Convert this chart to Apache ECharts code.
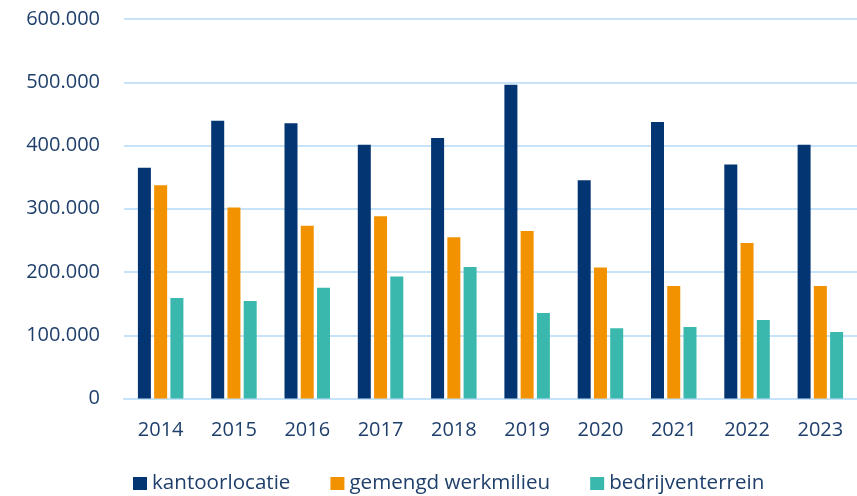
<!DOCTYPE html>
<html>
<head>
<meta charset="utf-8">
<script src="https://cdn.jsdelivr.net/npm/echarts@6/dist/echarts.min.js"></script>
<style>
  html, body { margin: 0; padding: 0; background: #fff; }
  #chart { width: 857px; height: 496px; }
</style>
</head>
<body>
<div id="chart"></div>
<script>
(function(window, undefined) {
	'use strict';

	// data
	var years = ['2014', '2015', '2016', '2017', '2018', '2019', '2020', '2021', '2022', '2023'];
	var kantoorlocatie = [365000, 439000, 435000, 401000, 412000, 496000, 345000, 437000, 370000, 401000];
	var gemengdWerkmilieu = [337000, 302000, 273000, 288000, 255000, 265000, 207000, 178000, 246000, 178000];
	var bedrijventerrein = [159000, 154000, 175000, 193000, 208000, 135000, 111000, 113000, 124000, 105000];
	var yTicks = [0, 100000, 200000, 300000, 400000, 500000, 600000];

	var textColor = '#1f3f6b';
	var gridColor = '#c6e3f9';
	var font = '"Open Sans", sans-serif';

	// duizendtallen met een punt
	function nl(v) {
		return String(v).replace(/\B(?=(\d{3})+(?!\d))/g, '.');
	}

	var myChart = echarts.init(document.getElementById('chart'));

	function bar(name, data, color) {
		return {
			name: name,
			type: 'bar',
			data: data,
			barWidth: 13,
			barGap: '25%',
			itemStyle: { color: color }
		};
	}

	myChart.setOption({
		animation: false,
		textStyle: { fontFamily: font },
		grid: { left: 124, top: 19, width: 739, bottom: 97.5, containLabel: false },
		legend: {
			left: 128,
			top: 468,
			padding: 5,
			icon: 'rect',
			itemWidth: 14,
			itemHeight: 13,
			itemGap: 40,
			textStyle: { color: textColor, fontSize: 20.6, fontFamily: font },
			data: ['kantoorlocatie', 'gemengd werkmilieu', 'bedrijventerrein']
		},
		xAxis: {
			type: 'category',
			data: years,
			axisLine: { show: true, lineStyle: { color: gridColor, width: 2 } },
			axisTick: { show: false },
			axisLabel: { color: textColor, fontSize: 20, margin: 22 }
		},
		yAxis: {
			type: 'value',
			min: yTicks[0],
			max: yTicks[yTicks.length - 1],
			interval: 100000,
			axisLine: { show: false },
			axisTick: { show: false },
			splitLine: { lineStyle: { color: gridColor, width: 2 } },
			axisLabel: { color: textColor, fontSize: 20, margin: 24, formatter: nl }
		},
		series: [
			bar('kantoorlocatie', kantoorlocatie, '#033572'),
			bar('gemengd werkmilieu', gemengdWerkmilieu, '#f39200'),
			bar('bedrijventerrein', bedrijventerrein, '#3bb8ad')
		]
	});

})(window);
</script>
</body>
</html>
